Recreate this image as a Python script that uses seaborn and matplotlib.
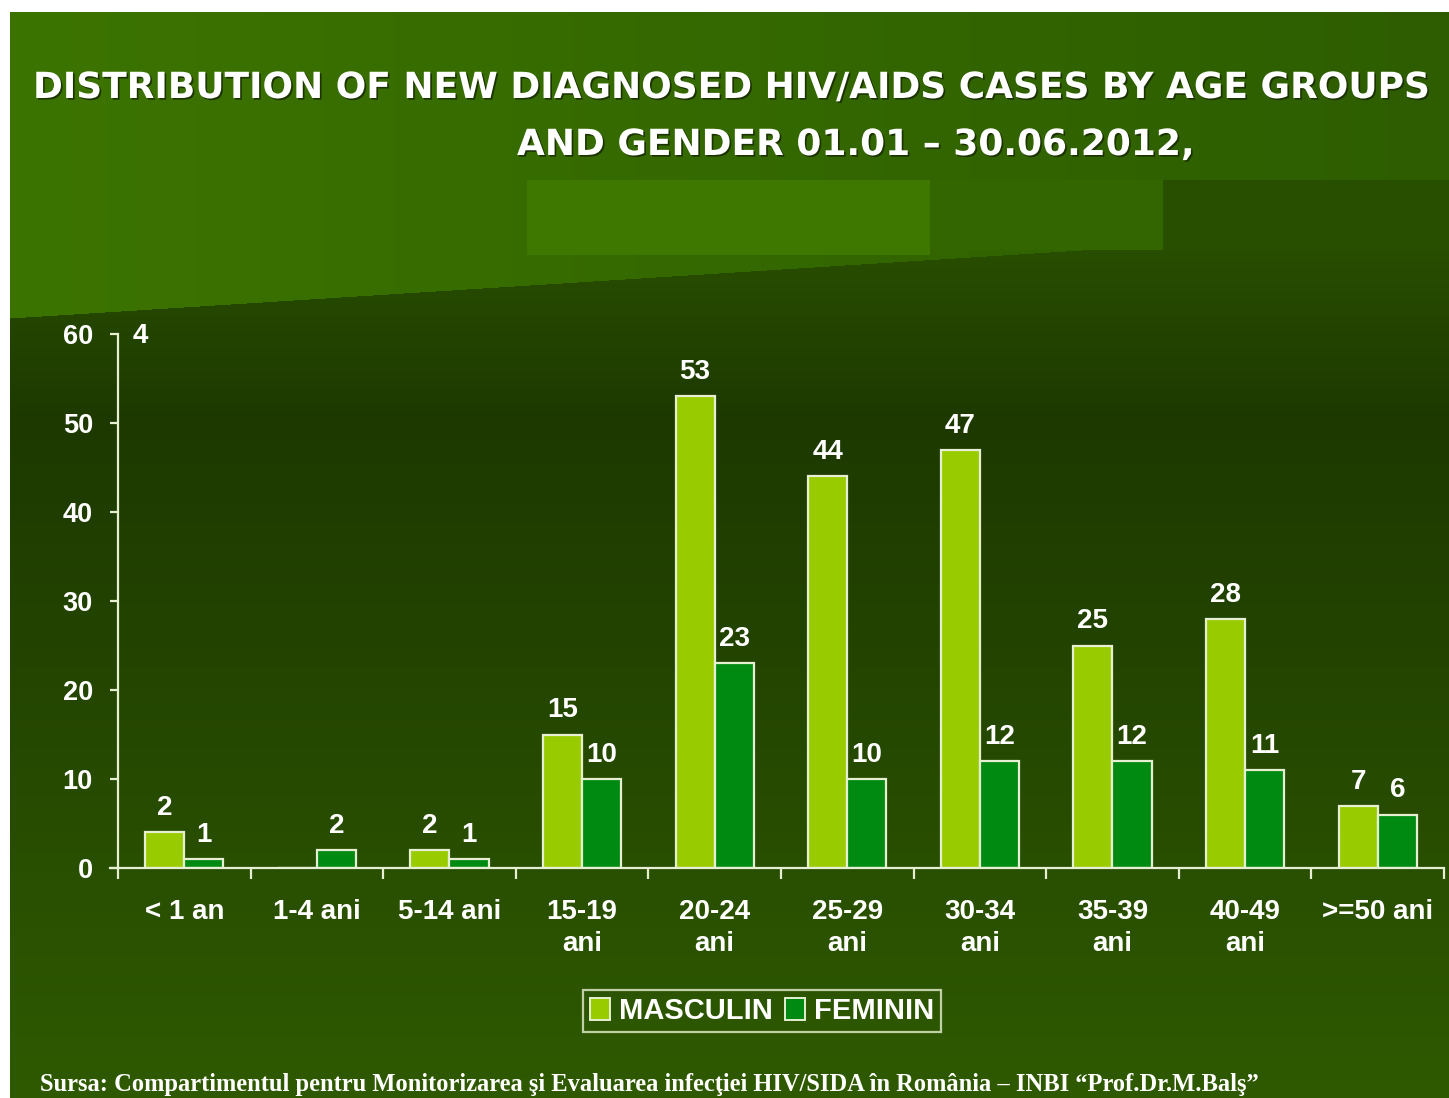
import numpy as np
import pandas as pd
import matplotlib
matplotlib.use('Agg')
import matplotlib.pyplot as plt
import seaborn as sns
from matplotlib import patheffects as pe
from matplotlib.patches import Patch

# ---------------- data ----------------
categories = ['< 1 an', '1-4 ani', '5-14 ani', '15-19\nani', '20-24\nani',
              '25-29\nani', '30-34\nani', '35-39\nani', '40-49\nani', '>=50 ani']
masculin = [4, 0, 2, 15, 53, 44, 47, 25, 28, 7]
feminin = [1, 2, 1, 10, 23, 10, 12, 12, 11, 6]
masculin_labels = ['2', '', '2', '15', '53', '44', '47', '25', '28', '7']
feminin_labels = ['1', '2', '1', '10', '23', '10', '12', '12', '11', '6']
series = ['MASCULIN', 'FEMININ']
y_ticks = [0, 10, 20, 30, 40, 50, 60]
stray_label = '4'
title_line1 = 'DISTRIBUTION OF NEW DIAGNOSED HIV/AIDS CASES BY AGE GROUPS'
title_line2 = 'AND GENDER 01.01 \u2013 30.06.2012,'
source_text = ('Sursa: Compartimentul pentru Monitorizarea \u015fi Evaluarea infec\u0163iei '
               'HIV/SIDA \u00een Rom\u00e2nia \u2013 INBI \u201cProf.Dr.M.Bal\u015f\u201d')

colors = {'MASCULIN': '#99cc00', 'FEMININ': '#008a12'}
edge = '#e6efd2'

df = pd.DataFrame({
    'grupa': categories * 2,
    'cazuri': masculin + feminin,
    'sex': [series[0]] * len(categories) + [series[1]] * len(categories),
})

sns.set_theme(style='white')
plt.rcParams['font.family'] = ['Liberation Sans', 'DejaVu Sans']

W, H = 1449, 1098
fig = plt.figure(figsize=(W / 100, H / 100), dpi=100)

# ---------------- background ----------------
yy, xx = np.mgrid[0:H, 0:W].astype(float)
c_a = np.array([40, 78, 0.])
c_b = np.array([29, 57, 0.])
c_c = np.array([47, 90, 0.])
t1 = np.clip((yy - 250) / 170, 0, 1)[..., None]
t2 = np.clip((yy - 420) / (H - 420), 0, 1)[..., None]
img = np.where((yy < 420)[..., None], c_a + t1 * (c_b - c_a), c_b + t2 * (c_c - c_b))
yline = 318 - 73 * (xx - 10) / 1150
upper_mask = ((xx < 1160) & (yy < yline)) | (yy < 180)
tx = np.clip((xx - 10) / 1439, 0, 1)[..., None]
up_col = np.array([60, 116, 0.]) + tx * (np.array([45, 93, 0.]) - np.array([60, 116, 0.]))
img = np.where(upper_mask[..., None], up_col, img)
rect = (xx >= 527) & (xx < 930) & (yy >= 180) & (yy < 255)
img[rect] = np.array([62, 120, 0.])
rect2 = (xx >= 930) & (xx < 1163) & (yy >= 180) & (yy < 250)
img[rect2] = np.array([52, 102, 0.])
white = (yy < 12) | (xx < 10)
img[white] = 255
bg = fig.add_axes([0, 0, 1, 1], zorder=-10)
bg.imshow(img / 255, extent=[0, W, H, 0], aspect='auto', interpolation='bilinear')
bg.set_xlim(0, W)
bg.set_ylim(H, 0)
bg.axis('off')

# ---------------- main axes ----------------
left_px, right_px, zero_px, top_px = 110, 1444, 868, 334
ax = fig.add_axes([left_px / W, 1 - zero_px / H, (right_px - left_px) / W, (zero_px - top_px) / H])
ax.set_facecolor('none')

sns.barplot(data=df, x='grupa', y='cazuri', hue='sex', hue_order=series,
            order=categories, palette=colors, width=0.59, edgecolor=edge,
            linewidth=1.6, saturation=1, legend=False, ax=ax, zorder=3)

ax.set_xlim(-0.56, 9.5)
ax.set_ylim(0, 60)
ax.set_xlabel('')
ax.set_ylabel('')
for s in ['top', 'right']:
    ax.spines[s].set_visible(False)
ax.spines['left'].set_position(('data', -0.5))
for s in ['left', 'bottom']:
    ax.spines[s].set_color(edge)
    ax.spines[s].set_linewidth(1.6)
    ax.spines[s].set_zorder(5)

ax.set_yticks(y_ticks)
ax.set_yticklabels([str(v) for v in y_ticks], fontsize=19.5, fontweight='bold', color='white')
ax.tick_params(axis='y', which='major', length=6, width=1.6, color=edge, direction='out', pad=12, left=True)
ax.set_xticks(range(len(categories)))
ax.set_xticklabels(categories, fontsize=20, fontweight='bold', color='white', linespacing=1.3, va='top')
ax.tick_params(axis='x', which='major', length=0, pad=22)
ax.set_xticks(np.arange(-0.5, len(categories) + 0.5, 1), minor=True)
ax.tick_params(axis='x', which='minor', length=8, width=1.6, color=edge, direction='out', bottom=True)

for cont, labs in zip(ax.containers, [masculin_labels, feminin_labels]):
    ax.bar_label(cont, labels=labs, padding=8, fontsize=20, fontweight='bold', color='white')

ax.text(-0.334, 59.8, stray_label, ha='center', va='center', fontsize=20,
        fontweight='bold', color='white')

# ---------------- legend ----------------
handles = [Patch(facecolor=colors[s], edgecolor=edge, linewidth=1.4, label=s) for s in series]
leg = fig.legend(handles=handles, loc='center', bbox_to_anchor=(762 / W, 1 - 1011 / H),
                 ncol=2, frameon=True, fancybox=False, handlelength=0.7, handleheight=0.8,
                 handletextpad=0.3, columnspacing=0.4, borderpad=0.25, borderaxespad=0,
                 prop={'family': 'Liberation Sans', 'weight': 'bold', 'size': 21})
leg.get_frame().set_facecolor('none')
leg.get_frame().set_edgecolor(edge)
leg.get_frame().set_linewidth(1.6)
for txt in leg.get_texts():
    txt.set_color('white')

# ---------------- titles ----------------
shadow = [pe.withSimplePatchShadow(offset=(1.2, -1.2), shadow_rgbFace='#1a2e00', alpha=0.9)]
tkw = dict(ha='left', va='center', color='white', fontsize=26, fontweight='bold',
           family='DejaVu Sans', path_effects=shadow)
t_1 = fig.text(33 / W, 1 - 88 / H, title_line1, **tkw)
t_2 = fig.text(517 / W, 1 - 145 / H, title_line2, **tkw)
src = fig.text(40 / W, 1 - 1085 / H, source_text, ha='left', va='center', color='white',
               fontsize=15, fontweight='bold', family='Liberation Serif')

fig.canvas.draw()
r = fig.canvas.get_renderer()
w1 = t_1.get_window_extent(r).width
fs = 26 * 1400 / w1
t_1.set_fontsize(fs)
t_2.set_fontsize(fs)
ws = src.get_window_extent(r).width
src.set_fontsize(15 * 1225 / ws)

fig.savefig('out.png', dpi=100)
